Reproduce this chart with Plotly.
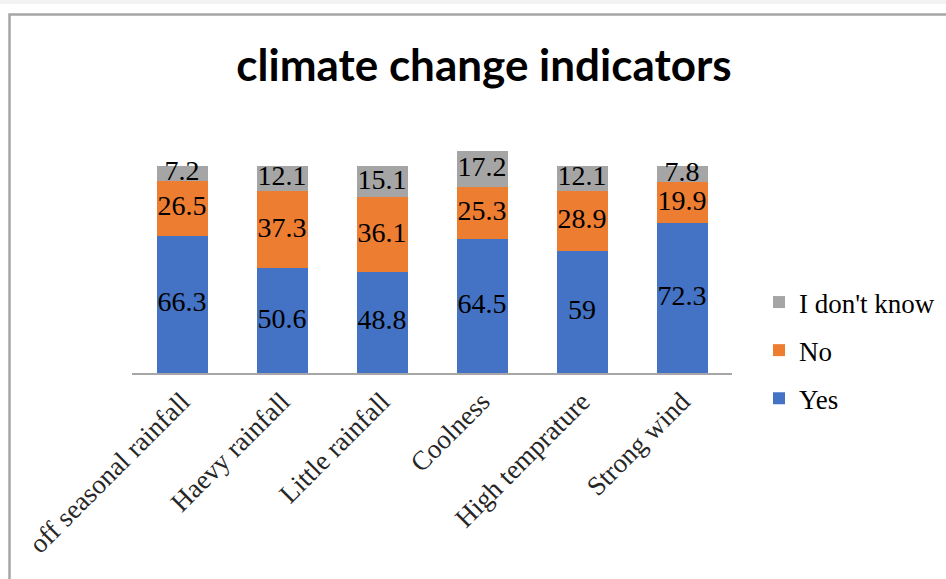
import plotly.graph_objects as go

# Survey responses (%) for each perceived climate change indicator
categories = ["off seasonal rainfall", "Haevy rainfall", "Little rainfall",
              "Coolness", "High temprature", "Strong wind"]
yes_vals = [66.3, 50.6, 48.8, 64.5, 59, 72.3]
no_vals = [26.5, 37.3, 36.1, 25.3, 28.9, 19.9]
dont_know_vals = [7.2, 12.1, 15.1, 17.2, 12.1, 7.8]

# (name, values, colour, legend rank) - stacked bottom to top
series = [
    ("Yes", yes_vals, "#4472C4", 3),
    ("No", no_vals, "#ED7D31", 2),
    ("I don't know", dont_know_vals, "#A5A5A5", 1),
]

W, H = 946, 579
# plot area in pixels
L, R, T, B = 132, 732, 141, 373
YMAX = 112.0


def px_x(p):
    return (p - L) / (R - L)


def px_y(p):
    return (B - p) / (B - T)


fig = go.Figure()
serif = "Liberation Serif, Times New Roman, serif"

base = [0.0] * len(categories)
for name, vals, color, rank in series:
    fig.add_trace(go.Bar(
        x=categories, y=vals, name=name, legendgroup=name, legendrank=rank,
        marker=dict(color=color, line=dict(width=0)),
        width=0.51, hoverinfo="skip",
    ))
    # value labels centred in each stacked segment
    mids = [b + v / 2 for b, v in zip(base, vals)]
    fig.add_trace(go.Scatter(
        x=categories, y=mids, mode="text",
        text=[f"{v:g}" for v in vals],
        textfont=dict(family=serif, size=28, color="#000000"),
        textposition="middle center", showlegend=False,
        hoverinfo="skip", cliponaxis=False,
    ))
    base = [b + v for b, v in zip(base, vals)]

shapes = [
    # light band along the top edge
    dict(type="rect", xref="paper", yref="paper",
         x0=px_x(-5), x1=px_x(W + 5), y0=px_y(4), y1=px_y(-5),
         fillcolor="#f2f2f2", line=dict(width=0), layer="below"),
    # chart frame
    dict(type="rect", xref="paper", yref="paper",
         x0=px_x(9.5), x1=px_x(W + 20), y0=px_y(H + 20), y1=px_y(14.5),
         fillcolor="rgba(0,0,0,0)", line=dict(color="#a6a6a6", width=2.5),
         layer="below"),
]

fig.update_layout(
    width=W, height=H,
    margin=dict(l=L, r=W - R, t=T, b=H - B, pad=0, autoexpand=False),
    paper_bgcolor="#ffffff", plot_bgcolor="#ffffff",
    barmode="stack", bargap=0.49,
    title=dict(text="<b>climate change indicators</b>",
               font=dict(family="Lato, Open Sans, sans-serif", size=44, color="#000000"),
               x=484 / W, xanchor="center", xref="container",
               y=1 - 66 / H, yanchor="middle", yref="container"),
    xaxis=dict(showline=True, linecolor="#a6a6a6", linewidth=2,
               ticks="", tickangle=-45, showgrid=False, zeroline=False,
               tickfont=dict(family=serif, size=27, color="#262626")),
    yaxis=dict(visible=False, range=[0, YMAX], showgrid=False, zeroline=False),
    legend=dict(x=px_x(759), xanchor="left", y=px_y(278), yanchor="top",
                traceorder="grouped", tracegroupgap=10,
                font=dict(family=serif, size=27, color="#000000"),
                bgcolor="rgba(0,0,0,0)", itemwidth=30),
    shapes=shapes,
    showlegend=True,
)

fig.write_html("out.html")
